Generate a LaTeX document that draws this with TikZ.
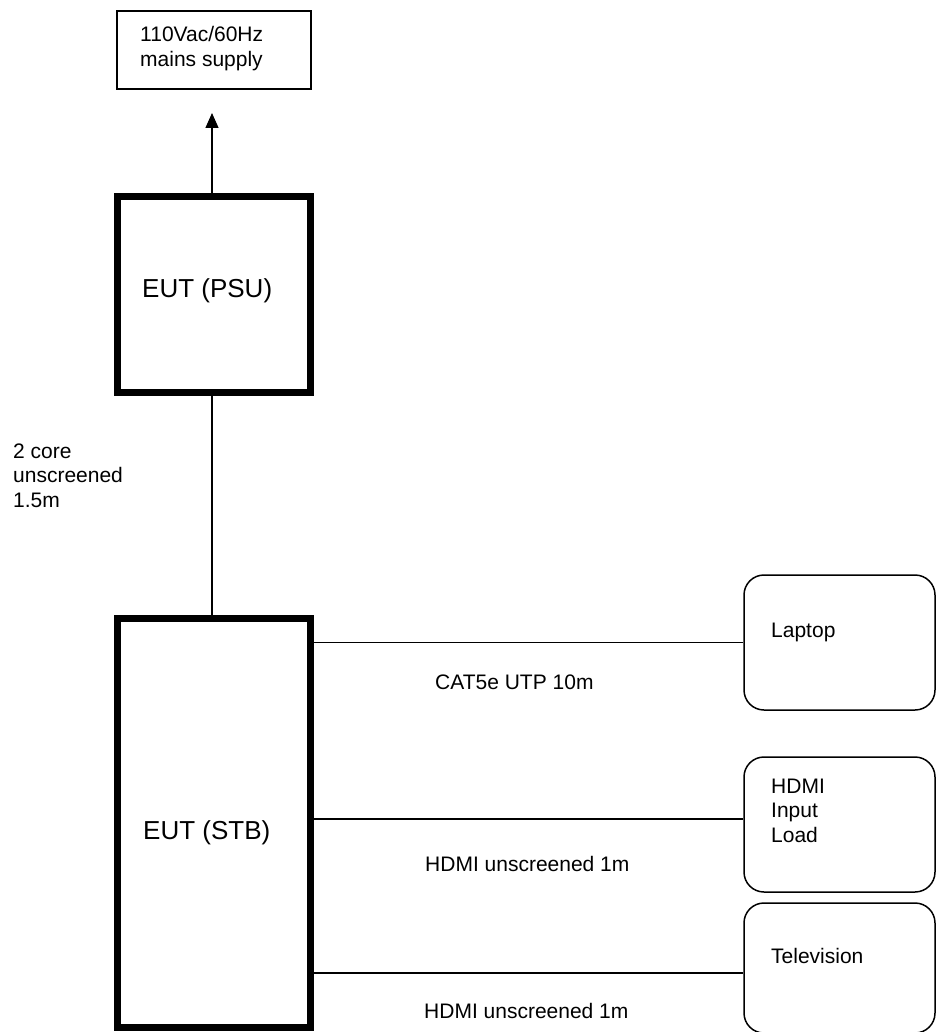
\documentclass[tikz,border=0pt]{standalone}
\usepackage{fontspec}
\setmainfont{Liberation Sans}
\usetikzlibrary{positioning,arrows.meta,calc}
\tikzset{
  >={Triangle[length=15pt,width=13pt]},
  wire/.style={line width=1.3pt},
}

\begin{document}
\begin{tikzpicture}[
  x=1pt, y=-1pt,
  every node/.style={font=\fontsize{21}{24.5}\selectfont},
  eut/.style={draw, line width=7pt, inner sep=0pt, minimum width=193pt},
  aux/.style={draw, line width=1.5pt, rounded corners=20pt, inner sep=0pt, minimum width=191pt},
  txt/.style={anchor=base west, inner sep=0pt, align=left},
  eutlabel/.style={txt, font=\fontsize{26}{30}\selectfont}
]
\useasboundingbox (0,0) rectangle (936,1032);

% supply and the two units under test
% (multi-line labels sit on the baseline of their last line)
\node[draw, wire, inner sep=0pt, minimum width=194pt, minimum height=78pt] (mains) at (214,50) {};
\node[txt] (mainstxt) at (140,66.5) {110Vac/60Hz\\mains supply};
\coordinate (supply) at (212,113);

\node[eut, minimum height=196pt] (psu) at (214,294.5) {};
\node[eutlabel] (psutxt) at (142,297) {EUT (PSU)};

\node[eut, minimum height=409pt] (stb) at (214,823) {};
\node[eutlabel] (stbtxt) at (143,839) {EUT (STB)};

% auxiliary equipment
\node[aux, minimum height=135pt] (lap) at (839.5,642.5) {};
\node[txt] (laptxt) at (771,637) {Laptop};

\node[aux, minimum height=135pt] (load) at (839.5,824.5) {};
\node[txt] (loadtxt) at (771,842) {HDMI\\Input\\Load};

\node[aux, minimum height=130pt] (tv) at (839.5,968) {};
\node[txt] (tvtxt) at (771,963) {Television};

% cables
\draw[wire, ->] ([xshift=-2pt]psu.north) -- (supply);
\draw[wire] ([xshift=-2pt]psu.south) -- ([xshift=-2pt]stb.north);
\node[txt] (dccable) at (13,507) {2 core\\unscreened\\1.5m};

\draw[wire] (stb.east |- lap.west) -- (lap.west);
\node[txt] (lancable) at (435,689) {CAT5e UTP 10m};

\draw[wire] ([yshift=5.5pt]load.west -| stb.east) -- ([yshift=5.5pt]load.west);
\node[txt] (hdmicable) at (425,871) {HDMI unscreened 1m};

\draw[wire] ([yshift=-5pt]tv.west -| stb.east) -- ([yshift=-5pt]tv.west);
\node[txt] (tvcable) at (424,1018) {HDMI unscreened 1m};

\end{tikzpicture}
\end{document}
